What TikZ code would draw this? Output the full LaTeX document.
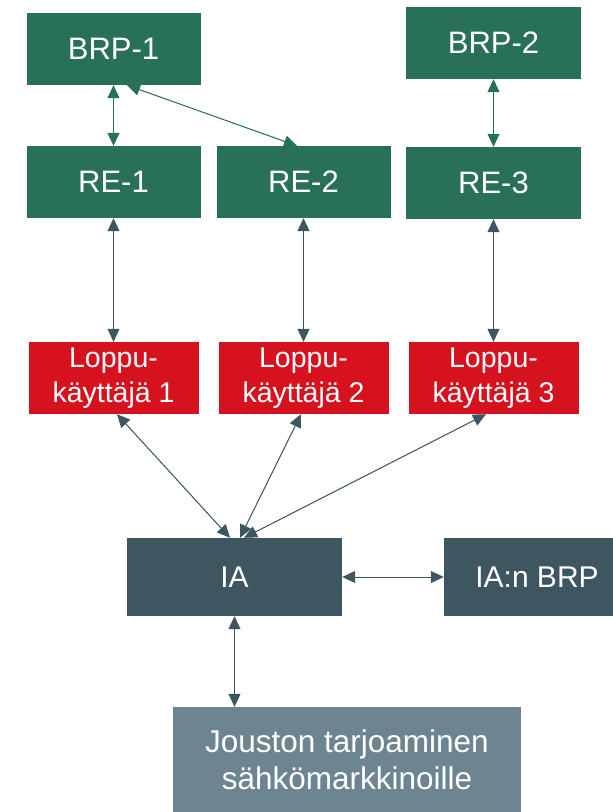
\documentclass[tikz,border=0pt]{standalone}
\usepackage{fontspec}
\setmainfont{Liberation Sans}
\usetikzlibrary{arrows.meta,calc}
\definecolor{grn}{HTML}{287059}
\definecolor{rd}{HTML}{D6121E}
\definecolor{slate}{HTML}{3E5660}
\definecolor{slatel}{HTML}{6D8591}
\begin{document}
\begin{tikzpicture}[x=1pt,y=-1pt,
  box/.style={draw=none,inner sep=0pt,align=center,text=white,font=\fontsize{31}{36}\selectfont},
  gbox/.style={box,fill=grn,minimum width=174pt,minimum height=72pt},
  rbox/.style={box,fill=rd,minimum width=170pt,minimum height=72pt,font=\fontsize{28.5}{35}\selectfont},
  sbox/.style={box,fill=slate,minimum height=78pt,font=\fontsize{30}{36}\selectfont},
  conn/.style={line width=1pt,{Triangle[length=13pt,width=12pt]}-{Triangle[length=13pt,width=12pt]}},
  gconn/.style={conn,draw=grn,fill=grn},
  sconn/.style={conn,draw=slate,fill=slate}]
\useasboundingbox (0,0) rectangle (613,812);
\fill[white] (0,0) rectangle (613,812);
\node[gbox] (BRP1) at (113.5,49) {BRP-1};
\node[gbox,minimum width=175pt] (BRP2) at (493.5,43) {BRP-2};
\node[gbox] (RE1) at (113.5,182) {RE-1};
\node[gbox] (RE2) at (303.5,182) {RE-2};
\node[gbox,minimum width=175pt] (RE3) at (493.5,183) {RE-3};
\node[rbox] (L1) at (113.5,378) {Loppu-\\käyttäjä 1};
\node[rbox] (L2) at (303.5,378) {Loppu-\\käyttäjä 2};
\node[rbox] (L3) at (493.5,378) {Loppu-\\käyttäjä 3};
\node[sbox,minimum width=215pt] (IA) at (234.5,577) {IA};
\node[sbox,minimum width=186pt] (IABRP) at (537,577) {IA:n BRP};
\node[box,fill=slatel,minimum width=348pt,minimum height=106pt,font=\fontsize{31.5}{37}\selectfont] (JO) at (347,760) {Jouston tarjoaminen\\sähkömarkkinoille};
\draw[gconn] (BRP1.south) -- (RE1.north);
\draw[gconn] ([xshift=13.5pt]BRP1.south) -- ([xshift=-6.5pt]RE2.north);
\draw[gconn] (BRP2.south) -- (RE3.north);
\draw[sconn] (RE1.south) -- (L1.north);
\draw[sconn] (RE2.south) -- (L2.north);
\draw[sconn] (RE3.south) -- (L3.north);
\draw[sconn] ([xshift=3.5pt]L1.south) -- ([xshift=-4.5pt]IA.north);
\draw[sconn] ([xshift=-2.5pt]L2.south) -- ([xshift=5.5pt]IA.north);
\draw[sconn] ([xshift=-7.5pt]L3.south) -- ([xshift=9.5pt]IA.north);
\draw[sconn] (IA.east) -- (IABRP.west);
\draw[sconn] (IA.south) -- (IA.south |- JO.north);
\end{tikzpicture}
\end{document}
